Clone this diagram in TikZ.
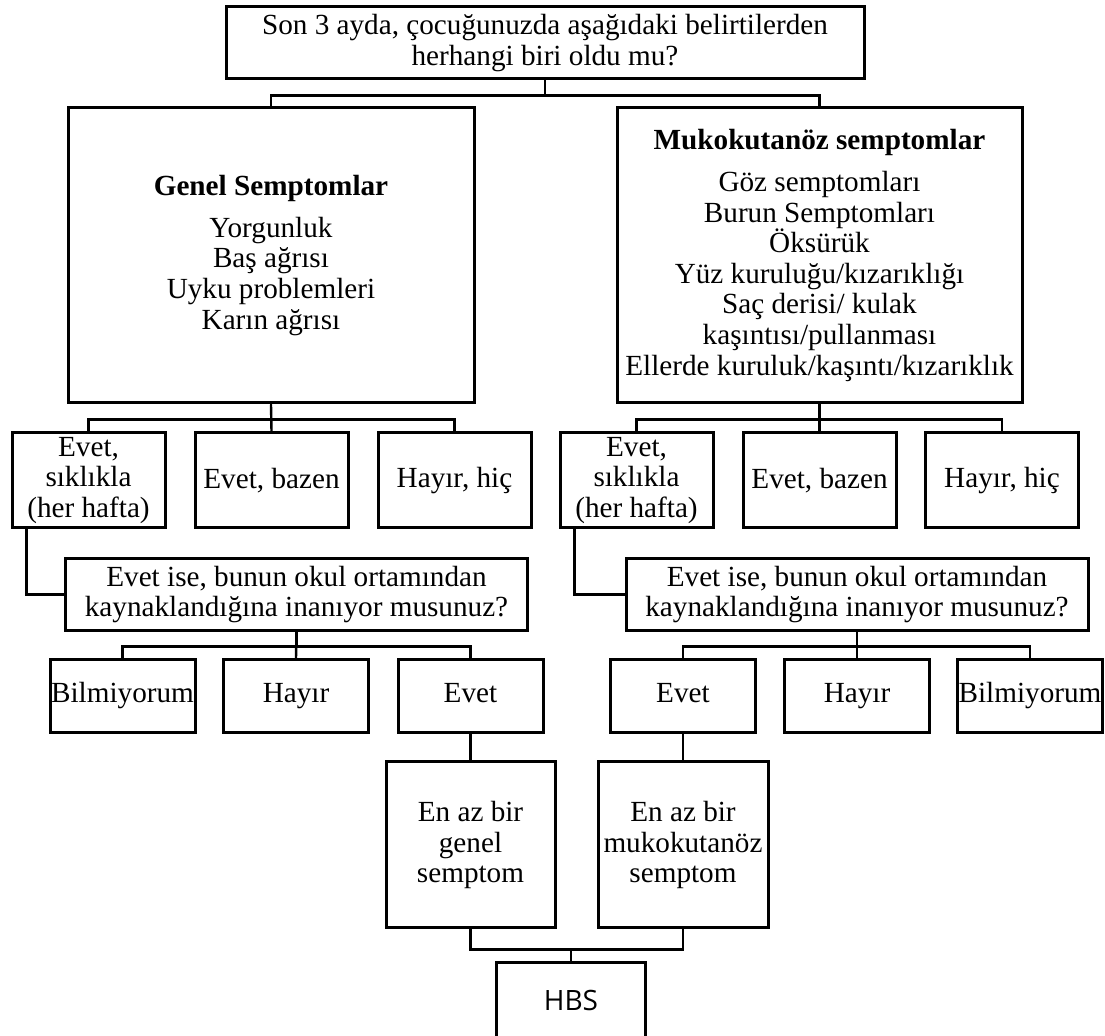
\documentclass[tikz,border=0pt]{standalone}
\usepackage{fontspec}
\setmainfont{Liberation Serif}
\newfontfamily\hbsfont{Open Sans}
\usetikzlibrary{positioning}

\begin{document}
\begin{tikzpicture}[x=0.5pt, y=-0.5pt,
  box/.style={rectangle, draw, line width=1.5pt, inner sep=0pt, align=center,
    font=\fontsize{14.6}{15.3}\selectfont},
  wide/.style={box, minimum width=231pt, minimum height=36pt},
  answer/.style={box, minimum width=76.5pt, minimum height=47.5pt},
  choice/.style={box, minimum width=72.5pt, minimum height=36.5pt,
    execute at begin node=\strut},
  link/.style={line width=1.2pt}]
  \useasboundingbox (0,0) rectangle (1105,1036);

  % Nodes with absolute positioning
  \node[box, minimum width=319pt, minimum height=36pt] (quest) at (545,43)
    {Son 3 ayda, çocuğunuzda aşağıdaki belirtilerden\\herhangi biri oldu mu?};
  \node[box, minimum width=203pt, minimum height=147.5pt] (genel) at (271,255.5)
    {\textbf{Genel Semptomlar}\\[5.5pt] Yorgunluk\\ Baş ağrısı\\ Uyku problemleri\\ Karın ağrısı};
  \node[box, minimum width=202.5pt, minimum height=147.5pt] (muko) at (819.5,255.5)
    {\textbf{Mukokutanöz semptomlar}\\[5.5pt] Göz semptomları\\ Burun Semptomları\\ Öksürük\\
     Yüz kuruluğu/kızarıklığı\\ Saç derisi/ kulak\\ kaşıntısı/pullanması\\
     Ellerde kuruluk/kaşıntı/kızarıklık};

  \node[answer] (gSik) at (88.5,480.5) {Evet,\\ sıklıkla\\ (her hafta)};
  \node[answer] (gBaz) at (271.5,480.5) {Evet, bazen};
  \node[answer] (gHic) at (454.5,480.5) {Hayır, hiç};
  \node[answer] (mSik) at (636.5,480.5) {Evet,\\ sıklıkla\\ (her hafta)};
  \node[answer] (mBaz) at (819.5,480.5) {Evet, bazen};
  \node[answer] (mHic) at (1002,480.5) {Hayır, hiç};

  \node[wide] (gIse) at (296.5,594.5) {Evet ise, bunun okul ortamından\\ kaynaklandığına inanıyor musunuz?};
  \node[wide] (mIse) at (857,594.5) {Evet ise, bunun okul ortamından\\ kaynaklandığına inanıyor musunuz?};

  \node[choice] (gBil) at (122.5,696.5) {Bilmiyorum};
  \node[choice] (gHay) at (296,696.5) {Hayır};
  \node[choice] (gEvt) at (470.5,696.5) {Evet};
  \node[choice] (mEvt) at (683,696.5) {Evet};
  \node[choice] (mHay) at (857,696.5) {Hayır};
  \node[choice] (mBil) at (1030,696.5) {Bilmiyorum};

  \node[box, minimum width=84.5pt, minimum height=83pt] (gMin) at (470.5,845)
    {En az bir\\ genel\\ semptom};
  \node[box, minimum width=85pt, minimum height=83pt] (mMin) at (683,845)
    {En az bir\\ mukokutanöz\\ semptom};
  % HBS box runs off the bottom edge
  \node[box, draw=none, anchor=north, minimum width=73pt, minimum height=50pt,
    text height=23pt, text depth=27pt, font=\hbsfont\fontsize{14}{16}\selectfont]
    (hbs) at (571,963) {HBS};
  \draw[line width=1.5pt] (hbs.south west) |- (hbs.north east) -- (hbs.south east);

  % Connectors
  \draw[link] (quest.south) -- ++(0,15) -| (genel.north);
  \draw[link] (quest.south) -- ++(0,15) -| (muko.north);

  \draw[link] (genel.south) -- ++(0,15) -| (gSik.north);
  \draw[link] (genel.south) -- (gBaz.north);
  \draw[link] (genel.south) -- ++(0,15) -| (gHic.north);
  \draw[link] (muko.south) -- ++(0,15) -| (mSik.north);
  \draw[link] (muko.south) -- (mBaz.north);
  \draw[link] (muko.south) -- ++(0,15) -| (mHic.north);

  \draw[link] ([xshift=8pt]gSik.south west) |- (gIse.west);
  \draw[link] ([xshift=8pt]mSik.south west) |- (mIse.west);

  \draw[link] (gIse.south) -- ++(0,14.5) -| (gBil.north);
  \draw[link] (gIse.south) -- (gHay.north);
  \draw[link] (gIse.south) -- ++(0,14.5) -| (gEvt.north);
  \draw[link] (mIse.south) -- ++(0,14.5) -| (mEvt.north);
  \draw[link] (mIse.south) -- (mHay.north);
  \draw[link] (mIse.south) -- ++(0,14.5) -| (mBil.north);

  \draw[link] (gEvt.south) -- (gMin.north);
  \draw[link] (mEvt.south) -- (mMin.north);
  \draw[link] (gMin.south) -- ++(0,20) -| (hbs.north);
  \draw[link] (mMin.south) -- ++(0,20) -| (hbs.north);
\end{tikzpicture}
\end{document}
